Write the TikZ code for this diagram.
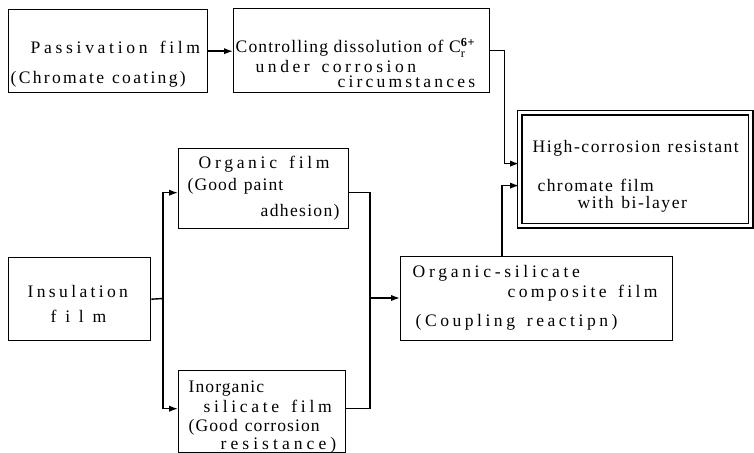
\documentclass[tikz,border=0pt]{standalone}
\usepackage{amsmath}
\usepackage{fontspec}
\setmainfont{Liberation Serif}
\usetikzlibrary{arrows.meta}

\newcommand{\wide}[3]{{\addfontfeature{LetterSpace=#1}\spaceskip=#2\fontdimen2\font\relax #3}}

\begin{document}
\begin{tikzpicture}[x=0.02cm,y=-0.02cm,
	box/.style={draw, line width=0.8pt, anchor=north west, inner sep=0pt, align=left,
		font=\fontsize{10}{11}\selectfont},
	link/.style={line width=0.8pt, -{Latex[length=5pt,width=3.5pt]}},
	wire/.style={line width=0.8pt}]

	\useasboundingbox (0,0) rectangle (754,453);

	%upper row
	\node[box, text width=3.98cm, text height=0.88cm, text depth=0.78cm] (pass) at (8,9)
		{\hspace*{0.44cm}\wide{21}{1.5}{Passivation film}\\[6pt]
		 \hspace*{0.04cm}\wide{13}{1.2}{(Chromate coating)}};
	\node[box, text width=5.12cm, text height=0.88cm, text depth=0.80cm] (ctrl) at (233,8)
		{\hspace*{0.04cm}\wide{6.5}{1}{Controlling dissolution of C$_{\text{r}}^{\textbf{6+}}$}\\[0.5pt]
		 \hspace*{0.44cm}\wide{20}{1.5}{under corrosion}\\[-2.5pt]
		 \hspace*{2.08cm}\wide{18}{1}{circumstances}};

	%result
	\node[box, double, double distance=2pt, line width=0.7pt, text width=4.62cm,
		text height=0.8cm, text depth=1.46cm] (high) at (519,112)
		{\hspace*{0.26cm}\wide{9}{1.2}{High-corrosion resistant}\\[11pt]
		 \hspace*{0.36cm}\wide{8}{1.3}{chromate film}\\[-1.3pt]
		 \hspace*{1.16cm}\wide{9}{1.3}{with bi-layer}};

	%films
	\node[box, text width=3.40cm, text height=0.4cm, text depth=1.2cm] (org) at (178,148)
		{\hspace*{0.4cm}\wide{21}{1.5}{Organic film}\\[1.5pt]
		 \hspace*{0.18cm}\wide{6}{1.3}{(Good paint}\\[3.8pt]
		 \hspace*{1.64cm}\wide{7.5}{1}{adhesion)}};
	\node[box, text width=2.84cm, text height=0.8cm, text depth=0.86cm] (ins) at (8,257)
		{\hspace*{0.38cm}\wide{19}{1}{Insulation}\\[3pt]
		 \hspace*{0.84cm}\wide{50}{1}{film}};
	\node[box, text width=3.34cm, text height=0.44cm, text depth=1.2cm] (inorg) at (178,370)
		{\hspace*{0.2cm}\wide{6}{1}{Inorganic}\\[0.4pt]
		 \hspace*{0.5cm}\wide{21}{1.5}{silicate film}\\[-0.2pt]
		 \hspace*{0.2cm}\wide{6}{1.3}{(Good corrosion}\\[-0.8pt]
		 \hspace*{0.84cm}\wide{23}{1}{resistance)}};
	\node[box, text width=5.44cm, text height=0.42cm, text depth=1.26cm] (osil) at (400,256)
		{\hspace*{0.24cm}\wide{21}{1}{Organic-silicate}\\[0.4pt]
		 \hspace*{2.14cm}\wide{19}{1.5}{composite film}\\[5.5pt]
		 \hspace*{0.3cm}\wide{20}{1.5}{(Coupling reactipn)}};

	%branch points
	\coordinate (split) at (163,298.5);
	\coordinate (merge) at (370,298);

	%connectors
	\draw[link] (pass.east) -- (pass.east -| ctrl.west);
	\draw[link] (ctrl.east) -- ++(14,0) |- ([yshift=0.11cm]high.west);
	\draw[link] ([xshift=2.04cm]osil.north west) |- ([yshift=-0.33cm]high.west);
	\draw[wire] (ins.east) -- (split);
	\draw[link] (split) |- ([yshift=-0.08cm]org.west);
	\draw[link] (split) |- ([yshift=0.06cm]inorg.west);
	\draw[wire] ([yshift=-0.08cm]org.east) -| (merge);
	\draw[wire] ([yshift=0.06cm]inorg.east) -| (merge);
	\draw[link] (merge) -- (merge -| osil.west);
\end{tikzpicture}
\end{document}
